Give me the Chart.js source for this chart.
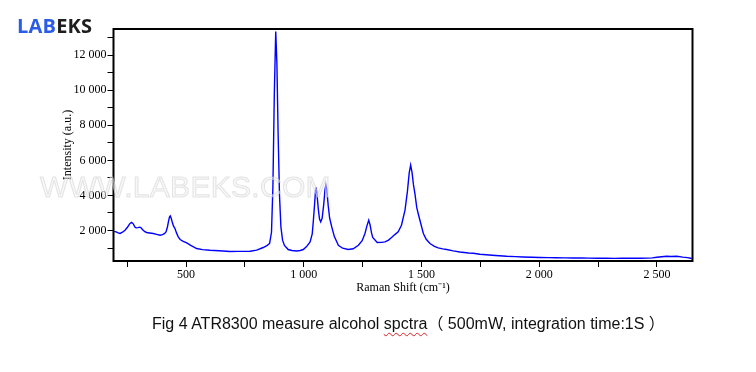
<!DOCTYPE html>
<html><head><meta charset="utf-8">
<script src="https://cdn.jsdelivr.net/npm/chart.js@4"></script>
<style>
html,body{margin:0;padding:0;background:#fff;width:756px;height:372px;overflow:hidden;position:relative}
#c{position:absolute;left:0;top:0}
#logo{position:absolute;left:17px;top:14px;font:700 20px "Open Sans",sans-serif;letter-spacing:0.2px;line-height:24px}
#logo .a{color:#2b5ce8}#logo .b{color:#1e1e1e}
#wm{position:absolute;left:40px;top:170px;font:400 30px "Liberation Sans",Arial,sans-serif;color:rgba(242,242,242,0.5);-webkit-text-stroke:1px rgba(205,205,205,0.5);pointer-events:none;letter-spacing:0.3px}
#cap{position:absolute;left:152px;top:310px;font:400 16px "Liberation Sans",Arial,"Noto Sans CJK SC",sans-serif;color:#111;white-space:pre}
#cap .sp{text-decoration:underline wavy #e02020;text-decoration-thickness:1px;text-underline-offset:3px}
</style></head><body>
<canvas id="c" width="756" height="372"></canvas>
<div id="logo"><span class="a">LAB</span><span class="b">EKS</span></div>
<div id="wm">WWW.LABEKS.COM</div>
<div id="cap">Fig 4 ATR8300 measure alcohol <span class="sp">spctra</span>（ 500mW, integration time:1S ）</div>
<script>
const ramanShift = [195,203,212,220,230,241,252,262,269,276,283,288,296,302,308,316,325,333,345,361,375,390,400,408,415,421,426,430,433,437,442,447,453,460,467,475,488,503,520,545,570,602,640,687,720,772,800,828,845,855,863,869,875,881,886,891,897,903,910,918,934,950,970,985,998,1012,1027,1036,1041,1046,1050,1052,1056,1062,1067,1072,1078,1085,1090,1094,1098,1104,1110,1119,1130,1147,1165,1189,1210,1232,1248,1260,1268,1276,1282,1288,1293,1312,1330,1345,1360,1373,1388,1401,1415,1430,1440,1448,1454,1460,1466,1472,1480,1486,1495,1508,1520,1536,1555,1571,1590,1607,1635,1663,1700,1720,1748,1775,1800,1830,1862,1900,1930,1970,2003,2040,2070,2110,2143,2180,2210,2250,2286,2320,2350,2390,2428,2460,2480,2500,2520,2541,2560,2584,2610,2630,2648];
const intensity = [1950,1920,1860,1830,1900,2017,2200,2400,2460,2380,2200,2150,2160,2190,2170,2040,1930,1886,1860,1830,1780,1730,1760,1820,1920,2200,2550,2780,2834,2700,2450,2250,2114,1850,1640,1486,1380,1291,1150,971,910,874,845,800,810,817,880,1029,1150,1260,1900,4500,9800,13350,11500,7600,4000,2200,1450,1150,914,860,834,860,914,1080,1350,1800,2590,3500,4250,4457,4100,3200,2650,2490,2700,3500,4300,4590,4300,3400,2700,2200,1650,1160,990,914,960,1160,1420,1830,2250,2590,2300,1850,1600,1314,1320,1350,1450,1600,1780,1920,2300,3160,4200,5300,5731,5300,4600,4114,3300,2971,2500,1830,1500,1257,1100,1006,950,914,840,777,720,700,646,620,590,560,531,510,490,470,457,452,445,438,434,440,425,420,417,410,420,415,417,425,440,470,500,531,520,531,480,450,400];
const xTickValues = [250,500,750,1000,1250,1500,1750,2000,2250,2500];
const xTickLabels = ['','500','','1 000','','1 500','','2 000','','2 500'];
const yTickValues = [1000,2000,3000,4000,5000,6000,7000,8000,9000,10000,11000,12000,13000];
const yTickLabels = ['','2 000','','4 000','','6 000','','8 000','','10 000','','12 000',''];

const framePlugin = {
  id:'frame',
  afterDatasetsDraw(chart){
    const a = chart.chartArea, ctx = chart.ctx;
    ctx.save();
    ctx.strokeStyle='#000'; ctx.lineWidth=2;
    ctx.strokeRect(a.left, a.top, a.right-a.left, a.bottom-a.top);
    ctx.restore();
  }
};
const serif = {family:'"Liberation Serif","Times New Roman",serif', size:12};
new Chart(document.getElementById('c'), {
  type:'line',
  data:{datasets:[{
    data: ramanShift.map((x,i)=>({x, y:intensity[i]})),
    borderColor:'#0000ff', borderWidth:1.4, pointRadius:0, tension:0, fill:false
  }]},
  options:{
    responsive:false, animation:false, devicePixelRatio:1,
    layout:{padding:{top:29,right:63.5,left:0,bottom:0}},
    plugins:{legend:{display:false}, tooltip:{enabled:false}},
    scales:{
      x:{type:'linear', min:192, max:2651,
        afterBuildTicks:s=>{s.ticks = xTickValues.map(v=>({value:v}));},
        afterFit:s=>{s.height = 111;},
        ticks:{autoSkip:false, maxRotation:0, padding:1, color:'#000', font:serif,
          callback:(v)=>{const i=xTickValues.indexOf(v); return i>=0?xTickLabels[i]:'';}},
        grid:{drawOnChartArea:false, drawTicks:true, tickLength:6, color:'#000', lineWidth:1},
        border:{display:false},
        title:{display:true, text:'Raman Shift (cm⁻¹)', color:'#000', font:serif, padding:{top:0,bottom:77}}
      },
      y:{type:'linear', min:260, max:13490,
        afterBuildTicks:s=>{s.ticks = yTickValues.map(v=>({value:v}));},
        afterFit:s=>{s.width = 113.5;},
        ticks:{autoSkip:false, padding:1, color:'#000', font:serif,
          callback:(v)=>{const i=yTickValues.indexOf(v); return i>=0?yTickLabels[i]:'';}},
        grid:{drawOnChartArea:false, drawTicks:true, tickLength:6, color:'#000', lineWidth:1},
        border:{display:false},
        title:{display:true, text:'Intensity (a.u.)', color:'#000', font:serif, padding:{top:61,bottom:0}}
      }
    }
  },
  plugins:[framePlugin]
});
</script>
</body></html>
